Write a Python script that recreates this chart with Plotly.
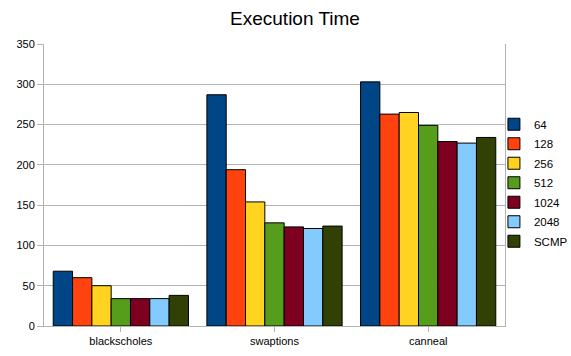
import plotly.graph_objects as go

categories = ["blackscholes", "swaptions", "canneal"]
series_names = ["64", "128", "256", "512", "1024", "2048", "SCMP"]
values_64 = [68, 287, 303]
values_128 = [60, 194, 263]
values_256 = [50, 154, 265]
values_512 = [34, 128, 249]
values_1024 = [34, 123, 229]
values_2048 = [34, 121, 227]
values_scmp = [38, 124, 234]
colors = ["#004586", "#ff420e", "#ffd320", "#579d1c", "#7e0021", "#83caff", "#314004"]

series_values = [values_64, values_128, values_256, values_512,
                 values_1024, values_2048, values_scmp]

fig = go.Figure()
for name, vals, col in zip(series_names, series_values, colors):
    fig.add_trace(go.Bar(
        x=categories, y=vals, name=name, legendgroup=name,
        marker=dict(color=col, line=dict(color="#000000", width=1)),
    ))

fig.update_layout(
    width=571, height=356,
    margin=dict(l=44, r=66, t=44, b=30, autoexpand=False),
    paper_bgcolor="white", plot_bgcolor="white",
    font=dict(family="Liberation Sans, Arial, sans-serif", size=11, color="#000000"),
    title=dict(text="Execution Time", x=295 / 571, xref="container", xanchor="center",
               y=1 - 18 / 356, yanchor="middle", font=dict(size=19)),
    barmode="group", bargap=0.12, bargroupgap=0,
    legend=dict(x=0.976, xanchor="left", y=0.508, yanchor="middle",
                font=dict(size=11.5), itemwidth=30, tracegroupgap=0.5,
                bgcolor="rgba(0,0,0,0)"),
    xaxis=dict(showline=True, linecolor="#b3b3b3", ticks="outside", ticklen=5,
               tickcolor="#b3b3b3", showgrid=False),
    yaxis=dict(range=[0, 350], dtick=50, showline=True, linecolor="#b3b3b3",
               mirror=True, ticks="outside", ticklen=6, tickcolor="#b3b3b3",
               gridcolor="#b3b3b3", zeroline=False),
)

fig.write_html("out.html")
